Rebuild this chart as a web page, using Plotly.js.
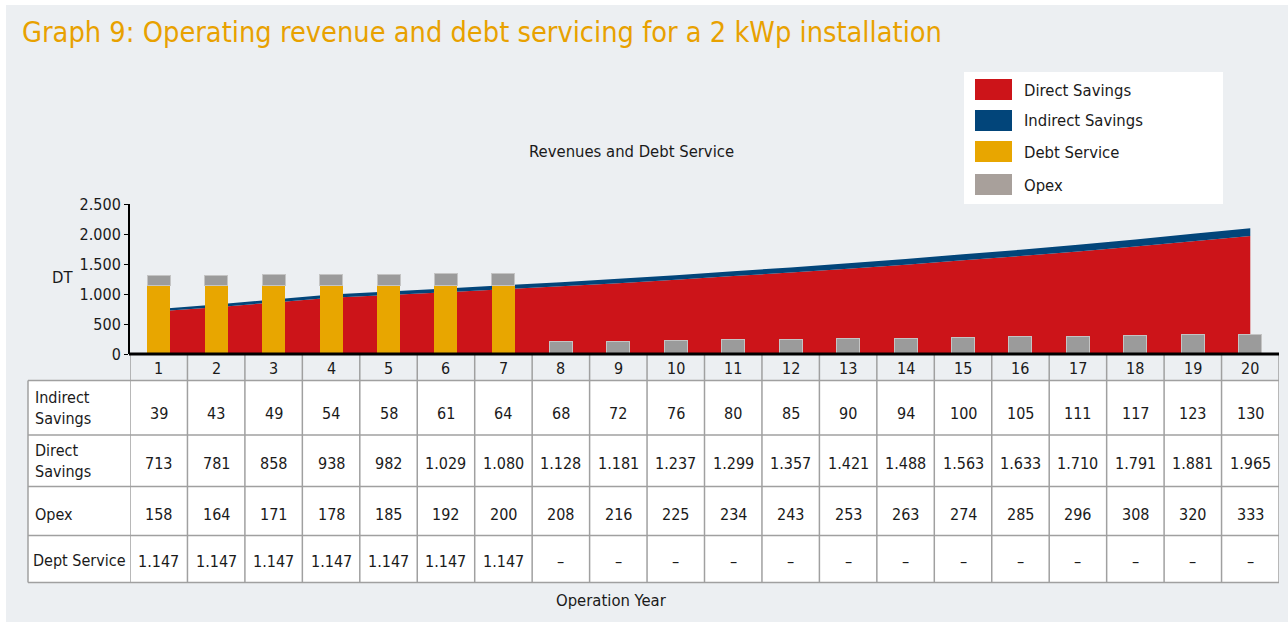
<!DOCTYPE html>
<html>
<head>
<meta charset="utf-8">
<script src="https://cdn.plot.ly/plotly-3.0.1.min.js"></script>
<style>html,body{margin:0;padding:0;background:#fff;}#chart{width:1288px;height:622px;}</style>
</head>
<body>
<div id="chart"></div>
<script>
// ---- data ----
var years = [1,2,3,4,5,6,7,8,9,10,11,12,13,14,15,16,17,18,19,20];
var indirectSavings = [39,43,49,54,58,61,64,68,72,76,80,85,90,94,100,105,111,117,123,130];
var directSavings = [713,781,858,938,982,1029,1080,1128,1181,1237,1299,1357,1421,1488,1563,1633,1710,1791,1881,1965];
var opex = [158,164,171,178,185,192,200,208,216,225,234,243,253,263,274,285,296,308,320,333];
var debtService = [1147,1147,1147,1147,1147,1147,1147,null,null,null,null,null,null,null,null,null,null,null,null,null];
var rowLabels = ['Indirect<br>Savings','Direct<br>Savings','Opex','Dept Service'];
var legendNames = ['Direct Savings','Indirect Savings','Debt Service','Opex'];

// ---- style ----
var W = 1288, H = 622;
var FONT = '"DejaVu Sans Condensed", "Liberation Sans Narrow", Roboto, sans-serif';
var C_RED = '#cc1419', C_BLUE = '#02457a', C_ORANGE = '#e8a600', C_GRAY = '#9b9b9b', C_LEG_GRAY = '#a8a09b';
var BG = '#eceff2', TXT = '#1a1a1a', GRID = '#a0a0a0';
function px(x){return x/W;}
function py(y){return 1 - y/H;}
function fmt(v){ if(v===null||v===undefined) return '–'; var s=String(v); return s.length>3 ? s.slice(0,s.length-3)+'.'+s.slice(s.length-3) : s; }

var PL = 130, PR = 1279, PT = 204, PB = 354;
var TL = 28, HB = 380.5;               // table left edge, header bottom
var rowEdges = [380.5, 435, 486.5, 535.5, 582.5];
var valueY = [413, 463, 514, 561];
var labelY = [408, 461, 514, 560];

var traces = [
  {type:'scatter', x:years, y:directSavings, name:'Direct Savings', stackgroup:'rev', mode:'none', fillcolor:C_RED, line:{width:0}, showlegend:false, xaxis:'x', yaxis:'y'},
  {type:'scatter', x:years, y:indirectSavings, name:'Indirect Savings', stackgroup:'rev', mode:'none', fillcolor:C_BLUE, line:{width:0}, showlegend:false, xaxis:'x', yaxis:'y'},
  {type:'bar', x:years, y:debtService, name:'Debt Service', marker:{color:C_ORANGE, line:{width:0}}, width:0.4, showlegend:false, xaxis:'x', yaxis:'y2'},
  {type:'bar', x:years, y:opex, name:'Opex', marker:{color:C_GRAY, line:{width:1, color:'#c4c4c4'}}, width:0.4, showlegend:false, xaxis:'x', yaxis:'y2'}
];

var shapes = [
  {type:'rect', xref:'paper', yref:'paper', x0:px(6), x1:1, y0:0, y1:py(5), fillcolor:BG, line:{width:0}, layer:'below'},
  {type:'rect', xref:'paper', yref:'paper', x0:px(964), x1:px(1223), y0:py(204), y1:py(72), fillcolor:'#ffffff', line:{width:0}, layer:'below'},
  // table body background
  {type:'rect', xref:'paper', yref:'paper', x0:px(TL), x1:px(PR), y0:py(rowEdges[4]), y1:py(rowEdges[0]), fillcolor:'#ffffff', line:{width:0}, layer:'below'}
];
var annotations = [];
// table grid: horizontal lines
for (var r=0;r<rowEdges.length;r++){
  shapes.push({type:'line', xref:'paper', yref:'paper', x0:px(TL), x1:px(PR), y0:py(rowEdges[r]), y1:py(rowEdges[r]), line:{color:GRID, width:1.5}, layer:'above'});
}
// table grid: vertical lines
shapes.push({type:'line', xref:'paper', yref:'paper', x0:px(TL), x1:px(TL), y0:py(rowEdges[4]), y1:py(rowEdges[0]), line:{color:GRID, width:1.5}, layer:'above'});
for (var c=0;c<=years.length;c++){
  var xb = (c===0) ? years[0]-0.5 : years[c-1]+0.5;
  shapes.push({type:'line', xref:'x', yref:'paper', x0:xb, x1:xb, y0:py(rowEdges[4]), y1:py(PB), line:{color:GRID, width:1.5}, layer:'above'});
}
// axis bottom line on top
shapes.push({type:'line', xref:'paper', yref:'paper', x0:px(PL-1), x1:px(PR), y0:py(PB), y1:py(PB), line:{color:'#000', width:3}, layer:'above'});

// header year labels + cell values
for (var i=0;i<years.length;i++){
  annotations.push({xref:'x', yref:'paper', x:years[i], y:py((PB+HB)/2+1), xanchor:'center', yanchor:'middle', text:String(years[i]), showarrow:false, font:{family:FONT, size:16, color:TXT}});
  var vals = [indirectSavings[i], directSavings[i], opex[i], debtService[i]];
  for (var r2=0;r2<vals.length;r2++){
    annotations.push({xref:'x', yref:'paper', x:years[i], y:py(valueY[r2]), xanchor:'center', yanchor:'middle', text:fmt(vals[r2]), showarrow:false, font:{family:FONT, size:16, color:TXT}});
  }
}
for (var r3=0;r3<rowLabels.length;r3++){
  annotations.push({xref:'paper', yref:'paper', x:px(r3===3?31:33), y:py(labelY[r3]), xanchor:'left', yanchor:'middle', align:'left', text:rowLabels[r3], showarrow:false, font:{family:FONT, size:16, color:TXT}});
}

// legend
var legendColors = [C_RED, C_BLUE, C_ORANGE, C_LEG_GRAY];
var legendTop = [79, 110, 141, 174];
for (var k=0;k<legendNames.length;k++){
  shapes.push({type:'rect', xref:'paper', yref:'paper', x0:px(975), x1:px(1012), y0:py(legendTop[k]+21), y1:py(legendTop[k]), fillcolor:legendColors[k], line:{width:0}});
  annotations.push({xref:'paper', yref:'paper', x:px(1022), y:py(legendTop[k]+11), xanchor:'left', yanchor:'middle', text:legendNames[k], showarrow:false, font:{family:FONT, size:16.5, color:TXT}});
}
annotations.push({xref:'paper', yref:'paper', x:px(631), y:py(151), xanchor:'center', yanchor:'middle', text:'Revenues and Debt Service', showarrow:false, font:{family:FONT, size:16.5, color:TXT}});
annotations.push({xref:'paper', yref:'paper', x:px(62), y:py(277), xanchor:'center', yanchor:'middle', text:'DT', showarrow:false, font:{family:FONT, size:16.5, color:TXT}});
annotations.push({xref:'paper', yref:'paper', x:px(611), y:py(600), xanchor:'center', yanchor:'middle', text:'Operation Year', showarrow:false, font:{family:FONT, size:16.5, color:TXT}});

var layout = {
  width:W, height:H,
  margin:{l:0,r:0,t:0,b:0,pad:0},
  paper_bgcolor:'#ffffff', plot_bgcolor:'rgba(0,0,0,0)',
  separators:',.',
  showlegend:false,
  title:{text:'Graph 9: Operating revenue and debt servicing for a 2 kWp installation', x:px(22), xanchor:'left', xref:'paper', y:py(32), yanchor:'middle', yref:'container', font:{family:FONT, size:28.7, color:'#e8a100'}},
  xaxis:{domain:[px(PL), px(PR)], range:[0.5, 20.5], showgrid:false, zeroline:false, showticklabels:false, ticks:'', showline:false, fixedrange:true},
  yaxis:{domain:[py(PB), py(PT)], range:[0,2500], tickvals:[0,500,1000,1500,2000,2500], tickformat:',d', showgrid:false, zeroline:false, showline:true, linecolor:'#000', linewidth:2, ticks:'outside', ticklen:4, tickcolor:'#000', tickwidth:1, tickfont:{family:FONT, size:16, color:TXT}, fixedrange:true},
  yaxis2:{domain:[py(PB), py(PT)], range:[0,2500], overlaying:'y', visible:false, fixedrange:true},
  barmode:'stack',
  shapes:shapes,
  annotations:annotations
};
Plotly.newPlot('chart', traces, layout, {displayModeBar:false});
</script>
</body>
</html>
